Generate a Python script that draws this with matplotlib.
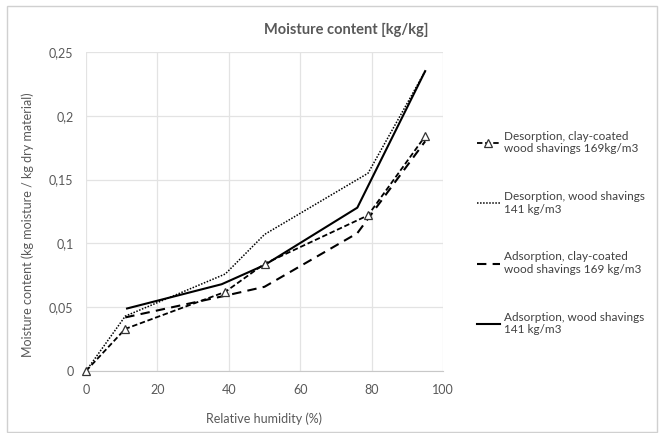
import numpy as np
import matplotlib.pyplot as plt
from matplotlib.ticker import FuncFormatter
from matplotlib.patches import Rectangle

plt.rcParams['font.family'] = ['Lato', 'DejaVu Sans']

# desorption, clay-coated wood shavings 169 kg/m3
rh_des_clay = [0, 11, 39, 50, 79, 95]
mc_des_clay = [0, 0.033, 0.062, 0.084, 0.122, 0.184]
# desorption, wood shavings 141 kg/m3
rh_des_wood = [0, 11, 39, 50, 79, 95]
mc_des_wood = [0, 0.043, 0.076, 0.107, 0.155, 0.235]
# adsorption, clay-coated wood shavings 169 kg/m3
rh_ads_clay = [11, 39, 50, 76, 95]
mc_ads_clay = [0.042, 0.059, 0.066, 0.108, 0.180]
# adsorption, wood shavings 141 kg/m3
rh_ads_wood = [11.5, 38, 50, 76, 95]
mc_ads_wood = [0.049, 0.068, 0.083, 0.128, 0.235]

labels = ['Desorption, clay-coated\nwood shavings 169kg/m3',
          'Desorption, wood shavings\n141 kg/m3',
          'Adsorption, clay-coated\nwood shavings 169 kg/m3',
          'Adsorption, wood shavings\n141 kg/m3']

grey = '#595959'
fig = plt.figure(figsize=(6.6, 4.33), dpi=100)
ax = fig.add_axes([86/660, 1-371/433, (443-86)/660, (371-52)/433])

ax.plot(rh_des_clay, mc_des_clay, color='black', ls=(0, (3, 1.5)), lw=1.3,
        marker='^', mfc='white', mec='#333333', ms=6, mew=0.9, label=labels[0],
        clip_on=False, zorder=4)
ax.plot(rh_des_wood, mc_des_wood, color='black', ls=(0, (1, 1)), lw=1.1, label=labels[1])
ax.plot(rh_ads_clay, mc_ads_clay, color='black', ls=(0, (4.5, 3)), lw=1.5, label=labels[2])
ax.plot(rh_ads_wood, mc_ads_wood, color='black', ls='-', lw=1.5, label=labels[3])

ax.set_xlim(0, 100)
ax.set_ylim(0, 0.25)
ax.set_xticks(np.arange(0, 101, 20))
ax.set_yticks([0, 0.05, 0.1, 0.15, 0.2, 0.25])
ax.yaxis.set_major_formatter(FuncFormatter(lambda v, p: ('%g' % round(v, 3)).replace('.', ',')))
ax.grid(True, color='#e3e3e3', lw=0.9)
ax.set_axisbelow(True)
for s in ['top', 'right', 'left']:
    ax.spines[s].set_visible(False)
ax.spines['bottom'].set_color('#c8c8c8')
ax.tick_params(length=0, labelsize=9, labelcolor=grey, pad=9)

ax.set_xlabel('Relative humidity (%)', fontsize=9, color=grey, labelpad=12)
ax.set_ylabel('Moisture content (kg moisture / kg dry material)', fontsize=9, color=grey)
ax.yaxis.set_label_coords(-0.145, 0.46)
fig.text(0.525, 1-30/433, 'Moisture content [kg/kg]', ha='center', va='center',
         fontsize=10.5, color=grey, fontweight='bold')

fig.legend(loc='center left', bbox_to_anchor=(466/660, 1-233/433), frameon=False,
           fontsize=8.5, labelcolor='#404040', handlelength=2.0, handletextpad=0.3,
           labelspacing=3.1)

fig.patches.append(Rectangle((7/660, 1/433), 650/660, 426/433, transform=fig.transFigure,
                             fill=False, ec='#d0d0d0', lw=1))

plt.savefig('out.png', dpi=100)
